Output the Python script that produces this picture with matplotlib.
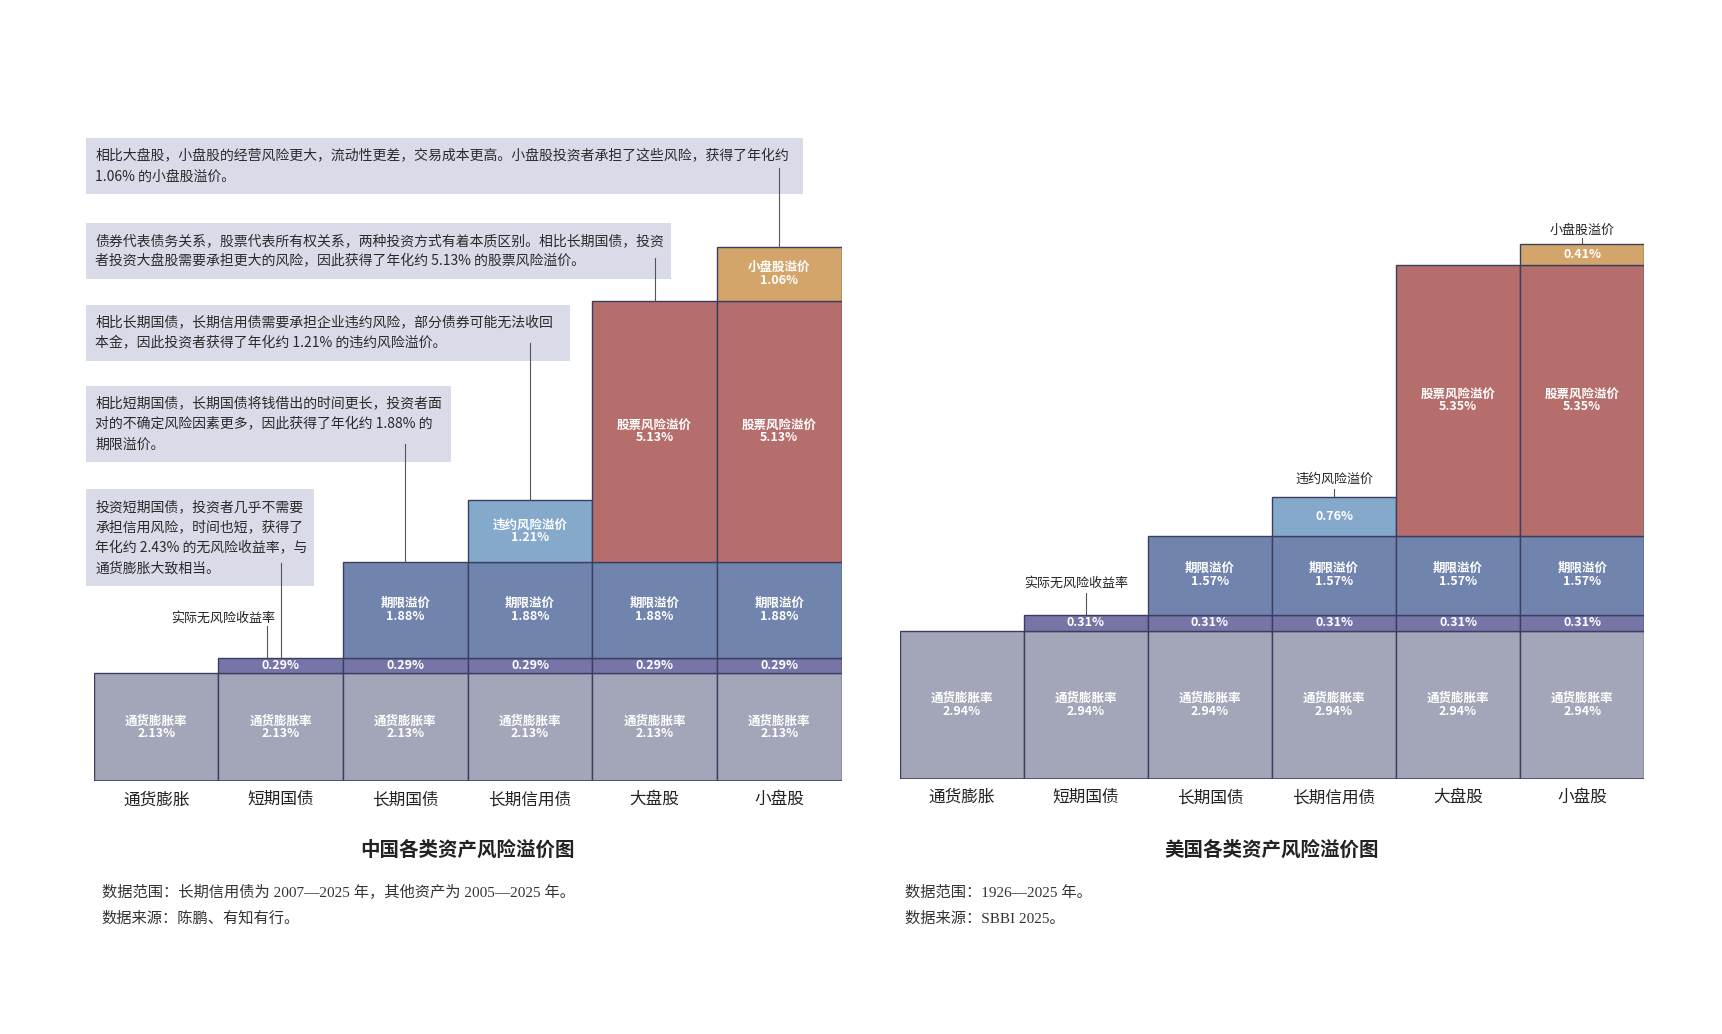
import matplotlib
matplotlib.use('Agg')
import matplotlib.pyplot as plt
from matplotlib.patches import Rectangle

plt.rcParams['font.family'] = ['Noto Sans CJK SC', 'DejaVu Sans']

# 资产类别
categories = ['通货膨胀', '短期国债', '长期国债', '长期信用债', '大盘股', '小盘股']

# 各层：通胀、实际无风险收益率、期限、违约、股票、小盘股
layer_names = ['通货膨胀率', '实际无风险收益率', '期限溢价', '违约风险溢价', '股票风险溢价', '小盘股溢价']
cn_values = [2.13, 0.29, 1.88, 1.21, 5.13, 1.06]
us_values = [2.94, 0.31, 1.57, 0.76, 5.35, 0.41]

# 每层出现在哪些资产上
layer_used = [
    [1, 1, 1, 1, 1, 1],
    [0, 1, 1, 1, 1, 1],
    [0, 0, 1, 1, 1, 1],
    [0, 0, 0, 1, 0, 0],
    [0, 0, 0, 0, 1, 1],
    [0, 0, 0, 0, 0, 1],
]
# 方块内是否写层名
cn_named = [1, 0, 1, 1, 1, 1]
us_named = [1, 0, 1, 0, 1, 0]

cn_notes = [
    '相比大盘股，小盘股的经营风险更大，流动性更差，交易成本更高。小盘股投资者承担了这些风险，获得了年化约\n1.06% 的小盘股溢价。',
    '债券代表债务关系，股票代表所有权关系，两种投资方式有着本质区别。相比长期国债，投资\n者投资大盘股需要承担更大的风险，因此获得了年化约 5.13% 的股票风险溢价。',
    '相比长期国债，长期信用债需要承担企业违约风险，部分债券可能无法收回\n本金，因此投资者获得了年化约 1.21% 的违约风险溢价。',
    '相比短期国债，长期国债将钱借出的时间更长，投资者面\n对的不确定风险因素更多，因此获得了年化约 1.88% 的\n期限溢价。',
    '投资短期国债，投资者几乎不需要\n承担信用风险，时间也短，获得了\n年化约 2.43% 的无风险收益率，与\n通货膨胀大致相当。',
]

layer_colors = ['#a2a6b8', '#7774a8', '#7184ad', '#84a9cb', '#b56e6b', '#d3a56b']
edge = '#3a3f60'

fig = plt.figure(figsize=(17.22, 10.34), dpi=100)
ax_cn = fig.add_axes([0.0545, 0.2442, 0.4342, 0.6412])
ax_us = fig.add_axes([0.5224, 0.2463, 0.4325, 0.6357])


def draw_market(ax, values, named):
    tops = {}
    for i in range(len(categories)):
        bottom = 0
        for k, v in enumerate(values):
            if not layer_used[k][i]:
                continue
            ax.bar(i, v, bottom=bottom, width=1.0, color=layer_colors[k],
                   edgecolor=edge, linewidth=1.0, zorder=2)
            txt = f'{layer_names[k]}\n{v:.2f}%' if named[k] else f'{v:.2f}%'
            ax.text(i, bottom + v / 2, txt, ha='center', va='center', color='white',
                    fontsize=9, fontweight='bold', linespacing=1.0, zorder=3)
            bottom += v
            tops[(k, i)] = bottom
    ax.axhline(0, color=edge, lw=1.8, zorder=4)
    ax.set_xlim(-0.5, 5.5)
    ax.set_ylim(0, 13)
    ax.set_xticks(range(len(categories)))
    ax.set_xticklabels(categories, fontsize=12, color='#222222')
    ax.tick_params(length=0, pad=7)
    ax.set_yticks([])
    for s in ax.spines.values():
        s.set_visible(False)
    return tops


def callout(ax, tops, layer, cat, text_x, text_dy, line_x, line_dy):
    top = tops[(layer, cat)]
    ax.text(text_x, top + text_dy, layer_names[layer], ha='center', va='center',
            fontsize=9.4, color='#222222')
    ax.plot([line_x, line_x], [top, top + line_dy], color='#555555', lw=0.8, zorder=1)


cn_tops = draw_market(ax_cn, cn_values, cn_named)
us_tops = draw_market(ax_us, us_values, us_named)

callout(ax_cn, cn_tops, 1, 1, 0.54, 0.79, 0.89, 0.62)
callout(ax_us, us_tops, 1, 1, 0.92, 0.63, 1.0, 0.44)
callout(ax_us, us_tops, 3, 3, 3.0, 0.36, 3.0, 0.17)
callout(ax_us, us_tops, 5, 5, 5.0, 0.28, 5.0, 0.12)

# 中国图的说明框：框顶、框右、所指层和资产、连线起点
box_tops = [12.61, 10.95, 9.35, 7.76, 5.73]
box_rights = [5.19, 4.13, 3.32, 2.37, 1.27]
box_targets = [(5, 5), (4, 4), (3, 3), (2, 2), (1, 1)]
line_starts = [12.03, 10.26, 8.60, 6.62, 4.29]
for note, top, right, (layer, cat), ls in zip(cn_notes, box_tops, box_rights,
                                              box_targets, line_starts):
    lines = note.split('\n')
    h = 0.7 + 0.4 * (len(lines) - 1)
    ax_cn.add_patch(Rectangle((-0.562, top - h), right + 0.562, h, facecolor='#d9dce8',
                              edgecolor='none', clip_on=False, zorder=1))
    for j, line in enumerate(lines):
        ax_cn.text(-0.49, top - 0.35 - 0.4 * j, line, ha='left', va='center',
                   fontsize=10, color='#2a2a2a', clip_on=False, zorder=2)
    ax_cn.plot([cat, cat], [ls, cn_tops[(layer, cat)]], color='#555555', lw=0.8,
               zorder=3, clip_on=False)

fig.text(0.2716, 0.178, '中国各类资产风险溢价图', ha='center', va='center',
         fontsize=14, fontweight='bold', color='#222222')
fig.text(0.7386, 0.178, '美国各类资产风险溢价图', ha='center', va='center',
         fontsize=14, fontweight='bold', color='#222222')

serif = ['Liberation Serif', 'Noto Sans CJK SC']
fig.text(0.059, 0.1365, '数据范围：长期信用债为 2007—2025 年，其他资产为 2005—2025 年。',
         ha='left', va='center', fontsize=11, color='#333333', family=serif)
fig.text(0.059, 0.112, '数据来源：陈鹏、有知有行。', ha='left', va='center',
         fontsize=11, color='#333333', family=serif)
fig.text(0.5255, 0.1365, '数据范围：1926—2025 年。', ha='left', va='center',
         fontsize=11, color='#333333', family=serif)
fig.text(0.5255, 0.112, '数据来源：SBBI 2025。', ha='left', va='center',
         fontsize=11, color='#333333', family=serif)

fig.savefig('out.png', dpi=100, facecolor='white')
